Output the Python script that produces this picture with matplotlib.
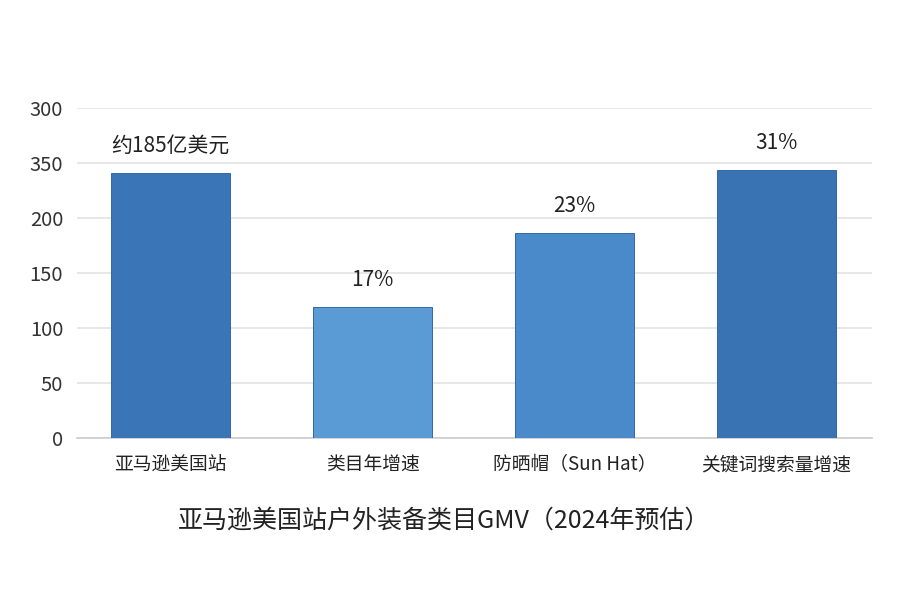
import matplotlib
matplotlib.use("Agg")
import matplotlib.pyplot as plt

plt.rcParams['font.family'] = ['Noto Sans CJK SC', 'DejaVu Sans']

categories = ["亚马逊美国站", "类目年增速", "防晒帽（Sun Hat）", "关键词搜索量增速"]
values = [241, 119, 186, 244]
bar_labels = ["约185亿美元", "17%", "23%", "31%"]
bar_colors = ["#3a75b8", "#5b9bd5", "#4a89ca", "#3a73b4"]
ytick_values = [0, 50, 100, 150, 200, 250, 300]
ytick_labels = ["0", "50", "100", "150", "200", "350", "300"]
title = "亚马逊美国站户外装备类目GMV（2024年预估）"

fig = plt.figure(figsize=(9, 6), dpi=100)
ax = fig.add_axes([0.0856, 0.27, 0.8834, 0.55])

x = list(range(len(categories)))
bars = ax.bar(x, values, width=0.59, color=bar_colors, edgecolor="#3068a8",
              linewidth=0.7, zorder=3)
for xi, v, lab in zip(x, values, bar_labels):
    ax.annotate(lab, (xi, v), xytext=(0, 27), textcoords="offset pixels",
                ha="center", va="center", fontsize=15, color="#222222")

ax.set_xlim(-0.463, 3.473)
ax.set_ylim(0, 300)
ax.set_yticks(ytick_values)
ax.set_yticklabels(ytick_labels, fontsize=14.5, color="#333333")
ax.set_xticks(x)
ax.set_xticklabels(categories, fontsize=13.5, color="#222222")
ax.tick_params(axis="y", length=0, pad=10)
ax.tick_params(axis="x", length=0, pad=12)
ax.grid(axis="y", color="#e3e3e3", linewidth=1.2, zorder=0)
for s in ["left", "right", "top"]:
    ax.spines[s].set_visible(False)
ax.spines["bottom"].set_color("#cccccc")
ax.spines["bottom"].set_linewidth(1.2)

fig.text(444 / 900, 1 - 521 / 600, title, ha="center", va="center",
         fontsize=18, color="#222222")

fig.savefig("out.png", dpi=100, facecolor="white")
